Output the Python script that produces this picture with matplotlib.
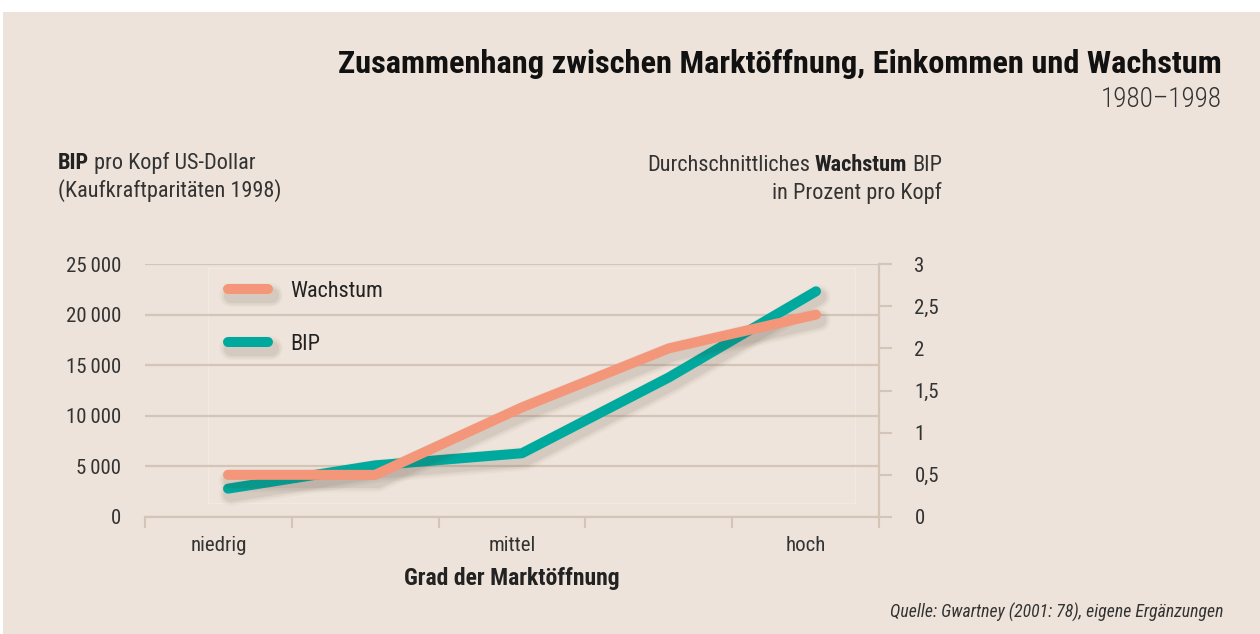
import matplotlib
matplotlib.use('Agg')
import matplotlib.pyplot as plt
from matplotlib import font_manager as fm, patheffects as pe
from matplotlib.patches import Rectangle
import numpy as np

# ---------------- data ----------------
categories = ['niedrig', 'mittel', 'hoch']
steps = [0, 1, 2, 3, 4]
bip = [2800, 5100, 6300, 13800, 22300]          # BIP pro Kopf, US-Dollar (KKP 1998)
wachstum = [0.5, 0.5, 1.3, 2.0, 2.4]            # Wachstum in % pro Kopf
left_ticks = [0, 5000, 10000, 15000, 20000, 25000]
left_labels = ['0', '5\u2009000', '10\u2009000', '15\u2009000', '20\u2009000', '25\u2009000']
right_ticks = [0, 0.5, 1, 1.5, 2, 2.5, 3]
right_labels = ['0', '0,5', '1', '1,5', '2', '2,5', '3']

# ---------------- fonts ----------------
names = {f.name for f in fm.fontManager.ttflist}
cands = ['Liberation Sans Narrow', 'DejaVu Sans Condensed', 'Roboto Condensed',
         'Open Sans Condensed', 'Liberation Sans']
FONT = next((c for c in cands if c in names), 'DejaVu Sans')
FAM = [FONT, 'DejaVu Sans']
plt.rcParams['font.family'] = FAM

W, H = 1260, 634
BG = '#EDE3DA'
GRID = '#D5C5B7'
TXT = '#333333'
ORANGE = '#F4967A'
TEAL = '#00A99D'

def fx(px):
    return px / W

def fy(py):
    return 1 - py / H

fig = plt.figure(figsize=(W / 100, H / 100), dpi=100, facecolor='white')
fig.patches.append(Rectangle((fx(3), 0), 1, fy(12), transform=fig.transFigure,
                             facecolor=BG, edgecolor='none', zorder=-10))

ax_l, ax_r, ax_t, ax_b = 145, 879, 264, 517
ax = fig.add_axes([fx(ax_l), fy(ax_b), fx(ax_r - ax_l), (ax_b - ax_t) / H])
ax.patch.set_visible(False)
ax2 = ax.twinx()
ax2.patch.set_visible(False)

# faint inner panel
ax.add_patch(Rectangle((fx(208), fy(503)), fx(855 - 208), (503 - 268) / H,
                       transform=fig.transFigure, facecolor='#EEE4DB',
                       edgecolor='#F1E9E2', lw=1, zorder=0))

# x geometry: first point at 228px, last at 816px
unit = (816 - 228) / 4
xmin = (ax_l - 228) / unit
xmax = (ax_r - 228) / unit
ax.set_xlim(xmin, xmax)
edges = np.linspace(xmin, xmax, 6)
mids = [(edges[0] + edges[1]) / 2, (edges[2] + edges[3]) / 2, (edges[4] + edges[5]) / 2]

ax.set_ylim(0, 25000)
ax2.set_ylim(0, 3)

def shadow():
    eff = []
    for w, a in [(17, 0.035), (14, 0.05), (11, 0.07)]:
        eff.append(pe.SimpleLineShadow(offset=(2, -4), shadow_color='#4a3a30',
                                       alpha=a, linewidth=w))
    eff.append(pe.Normal())
    return eff

l_bip, = ax.plot(steps, bip, color=TEAL, lw=7.2, solid_capstyle='round',
                 solid_joinstyle='round', path_effects=shadow(), zorder=3, label='BIP')
l_wa, = ax2.plot(steps, wachstum, color=ORANGE, lw=7.2, solid_capstyle='round',
                 solid_joinstyle='round', path_effects=shadow(), zorder=3, label='Wachstum')

# grid & spines
ax.set_yticks(left_ticks, left_labels)
ax.yaxis.grid(True, color=GRID, lw=1.6)
ax.set_axisbelow(True)
ax.tick_params(axis='y', length=0, pad=17, labelsize=15, labelcolor=TXT)
for s in ['left', 'top', 'right']:
    ax.spines[s].set_visible(False)
ax.spines['bottom'].set_color(GRID)
ax.spines['bottom'].set_linewidth(1.6)
ax.set_xticks(edges, [''] * 6)
ax.set_xticks(mids, categories, minor=True)
ax.tick_params(axis='x', which='major', length=8, width=1.5, color=GRID, direction='out')
ax.tick_params(axis='x', which='minor', length=0, pad=13.5, labelsize=15, labelcolor=TXT)
ax.set_xlabel('Grad der Marktöffnung', fontsize=17, fontweight='bold', color='#222222',
              labelpad=9)

ax2.set_yticks(right_ticks, right_labels)
ax2.tick_params(axis='y', length=9.5, width=1.5, color=GRID, pad=16, labelsize=15,
                labelcolor=TXT, direction='out')
for s in ['left', 'top', 'bottom']:
    ax2.spines[s].set_visible(False)
ax2.spines['right'].set_color(GRID)
ax2.spines['right'].set_linewidth(1.6)

leg = ax2.legend(handles=[l_wa, l_bip], loc='upper left',
                 bbox_to_anchor=(fx(228), fy(281)), bbox_transform=fig.transFigure,
                 frameon=False, fontsize=16, handlelength=1.8, handletextpad=1.0,
                 labelspacing=1.45, borderpad=0, borderaxespad=0)
for t in leg.get_texts():
    t.set_color('#222222')

# ---------------- titles & labels ----------------
fig.text(fx(1222), fy(73), 'Zusammenhang zwischen Marktöffnung, Einkommen und Wachstum',
         ha='right', va='baseline', fontsize=23.3, fontweight='bold', color='#111111')
fig.text(fx(1222), fy(107), '1980\u20131998', ha='right', va='baseline',
         fontsize=19.5, fontweight='light', color='#333333')

LS = 16
t1 = fig.text(fx(58), fy(169), 'BIP', ha='left', va='baseline', fontsize=LS,
              fontweight='bold', color='#222222')
ax.annotate('pro Kopf US-Dollar', xy=(1, 0), xycoords=t1, xytext=(3.5, 0),
            textcoords='offset points', ha='left', va='bottom', fontsize=LS, color=TXT,
            annotation_clip=False)
fig.text(fx(58), fy(197), '(Kaufkraftparitäten 1998)', ha='left', va='baseline',
         fontsize=LS, color=TXT)

r3 = fig.text(fx(942), fy(171), 'BIP', ha='right', va='baseline', fontsize=LS, color=TXT)
r2 = ax.annotate('Wachstum', xy=(0, 0), xycoords=r3, xytext=(-3.5, 0),
                 textcoords='offset points', ha='right', va='bottom', fontsize=LS,
                 fontweight='bold', color='#222222', annotation_clip=False)
ax.annotate('Durchschnittliches', xy=(0, 0), xycoords=r2, xytext=(-3.5, 0),
            textcoords='offset points', ha='right', va='bottom', fontsize=LS, color=TXT,
            annotation_clip=False)
fig.text(fx(942), fy(199), 'in Prozent pro Kopf', ha='right', va='baseline',
         fontsize=LS, color=TXT)

fig.text(fx(1224), fy(618), 'Quelle: Gwartney (2001: 78), eigene Ergänzungen',
         ha='right', va='baseline', fontsize=12.8, fontstyle='italic', color='#333333')

fig.savefig('out.png', dpi=100, facecolor='white')
